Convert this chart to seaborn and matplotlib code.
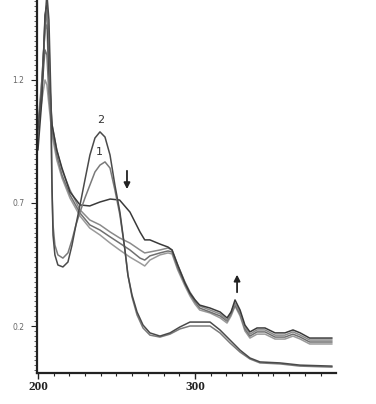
import numpy as np
import pandas as pd
import matplotlib
matplotlib.use("Agg")
import matplotlib.pyplot as plt
from matplotlib.ticker import MultipleLocator, FixedLocator
import seaborn as sns

sns.set_theme(style="white")
plt.rcParams['font.family'] = ['DejaVu Sans']

# Wavelength grid (nm) for the four decreasing spectra
wl_family = [200, 202.5, 204.5, 205.7, 207, 209, 212, 215.3, 220.4, 226.8, 233, 239.5, 246, 252,
             258.6, 265, 268, 271.3, 277.7, 282.8, 285.4, 289, 293.6, 296.8, 300, 303, 309.6, 316,
             320.4, 323, 325.5, 328.7, 331.8, 335, 339.5, 344.6, 351, 357.3, 362.4, 367, 373,
             379.6, 387.3]

abs_A = [0.915, 1.119, 1.464, 1.505, 1.241, 1.017, 0.915, 0.842, 0.745, 0.692, 0.688, 0.704, 0.716,
         0.712, 0.663, 0.582, 0.550, 0.550, 0.533, 0.521, 0.509, 0.448, 0.375, 0.334, 0.306, 0.285,
         0.273, 0.257, 0.233, 0.257, 0.306, 0.265, 0.204, 0.176, 0.192, 0.192, 0.172, 0.172, 0.184,
         0.172, 0.151, 0.151, 0.151]
abs_B = [0.956, 1.200, 1.403, 1.424, 1.200, 1.017, 0.915, 0.834, 0.753, 0.672, 0.631, 0.611, 0.582,
         0.558, 0.537, 0.509, 0.497, 0.501, 0.509, 0.517, 0.509, 0.448, 0.379, 0.338, 0.306, 0.281,
         0.265, 0.249, 0.224, 0.257, 0.293, 0.257, 0.196, 0.167, 0.184, 0.184, 0.163, 0.163, 0.176,
         0.163, 0.143, 0.143, 0.143]
abs_C = [0.976, 1.159, 1.322, 1.302, 1.139, 0.997, 0.895, 0.814, 0.733, 0.659, 0.611, 0.590, 0.562,
         0.537, 0.509, 0.476, 0.468, 0.485, 0.497, 0.505, 0.501, 0.436, 0.371, 0.330, 0.298, 0.273,
         0.257, 0.241, 0.220, 0.249, 0.285, 0.249, 0.188, 0.159, 0.176, 0.176, 0.155, 0.155, 0.167,
         0.155, 0.135, 0.135, 0.135]
abs_D = [0.997, 1.119, 1.200, 1.180, 1.098, 0.976, 0.875, 0.802, 0.720, 0.647, 0.598, 0.570, 0.537,
         0.509, 0.480, 0.456, 0.444, 0.468, 0.489, 0.497, 0.493, 0.428, 0.363, 0.322, 0.289, 0.265,
         0.253, 0.233, 0.212, 0.241, 0.281, 0.241, 0.180, 0.151, 0.167, 0.167, 0.147, 0.147, 0.159,
         0.147, 0.127, 0.127, 0.127]

# Wavelength grid (nm) for spectra 1 and 2
wl_12 = [200, 202.5, 204.5, 205.7, 207, 208.3, 208.9, 209.6, 210.8, 212.7, 215.9, 219.1, 221.7,
         224.2, 226.8, 229.9, 233.1, 236.3, 239.5, 242.7, 245.9, 249, 252.2, 255.4, 257.3, 259.9,
         263.1, 266.9, 271.3, 277.7, 284.1, 290.4, 296.8, 303.2, 309.6, 315.9, 322.3, 328.7, 335,
         341.4, 354.1, 366.9, 387.3]
abs_2 = [0.997, 1.159, 1.444, 1.55, 1.444, 1.119, 0.793, 0.570, 0.489, 0.448, 0.440, 0.460, 0.529,
         0.611, 0.692, 0.793, 0.895, 0.964, 0.989, 0.968, 0.895, 0.773, 0.663, 0.509, 0.407, 0.326,
         0.257, 0.204, 0.172, 0.159, 0.172, 0.196, 0.216, 0.216, 0.216, 0.184, 0.143, 0.102, 0.070,
         0.054, 0.050, 0.041, 0.037]
abs_1 = [1.017, 1.200, 1.403, 1.485, 1.363, 1.037, 0.753, 0.611, 0.529, 0.489, 0.476, 0.497, 0.550,
         0.611, 0.663, 0.720, 0.773, 0.826, 0.854, 0.867, 0.842, 0.753, 0.651, 0.509, 0.407, 0.318,
         0.245, 0.192, 0.163, 0.155, 0.167, 0.188, 0.200, 0.200, 0.200, 0.172, 0.131, 0.094, 0.066,
         0.050, 0.046, 0.037, 0.033]

x_ticks = [200, 300]
y_ticks = [0.2, 0.7, 1.2]
y_tick_labels = ["0.2", "0.7", "1.2"]

fig = plt.figure(figsize=(3.76, 4.04), dpi=100)
ax = fig.add_axes([37 / 376, 31 / 404, 299 / 376, 373 / 404])

series = [
    (wl_family, abs_D, "#9a9a9a"),
    (wl_family, abs_C, "#707070"),
    (wl_family, abs_B, "#8a8a8a"),
    (wl_family, abs_A, "#3a3a3a"),
    (wl_12, abs_1, "#7a7a7a"),
    (wl_12, abs_2, "#4a4a4a"),
]
for xs, ys, col in series:
    df = pd.DataFrame({"wl": xs, "A": ys})
    sns.lineplot(data=df, x="wl", y="A", ax=ax, color=col, lw=1.1,
                 sort=False, estimator=None)

ax.set_xlim(199.4, 389.8)
ax.set_ylim(0.009, 1.525)
ax.set_xlabel("")
ax.set_ylabel("")

for s in ["top", "right"]:
    ax.spines[s].set_visible(False)
for s in ["left", "bottom"]:
    ax.spines[s].set_color("#222222")
    ax.spines[s].set_linewidth(1.6)

ax.xaxis.set_major_locator(FixedLocator(x_ticks))
ax.xaxis.set_minor_locator(MultipleLocator(10))
ax.set_xticklabels([str(t) for t in x_ticks], fontfamily="Liberation Serif",
                   fontweight="bold", fontsize=9.5, color="#222222")
ax.yaxis.set_major_locator(FixedLocator(y_ticks))
ax.yaxis.set_minor_locator(MultipleLocator(0.02))
ax.set_yticklabels(y_tick_labels, fontsize=5.5, color="#666666")
ax.tick_params(axis="x", which="major", direction="out", length=4, width=1, color="#222222", pad=2, bottom=True)
ax.tick_params(axis="x", which="minor", direction="out", length=2.5, width=0.8, color="#222222", bottom=True)
ax.tick_params(axis="y", which="major", direction="out", length=4, width=0.8, color="#222222", pad=5, left=True)
ax.tick_params(axis="y", which="minor", direction="out", length=2, width=0.6, color="#444444", left=True)

ax.text(240, 1.037, "2", fontsize=8, ha="center", va="center", color="#333333")
ax.text(238.9, 0.907, "1", fontsize=8, ha="center", va="center", color="#333333")
ax.annotate("", xy=(256.7, 0.745), xytext=(256.7, 0.842),
            arrowprops=dict(arrowstyle="-|>", color="#222222", lw=1.3, mutation_scale=9))
ax.annotate("", xy=(326.8, 0.42), xytext=(326.8, 0.326),
            arrowprops=dict(arrowstyle="-|>", color="#222222", lw=1.3, mutation_scale=9))

fig.savefig("out.png", dpi=100)
